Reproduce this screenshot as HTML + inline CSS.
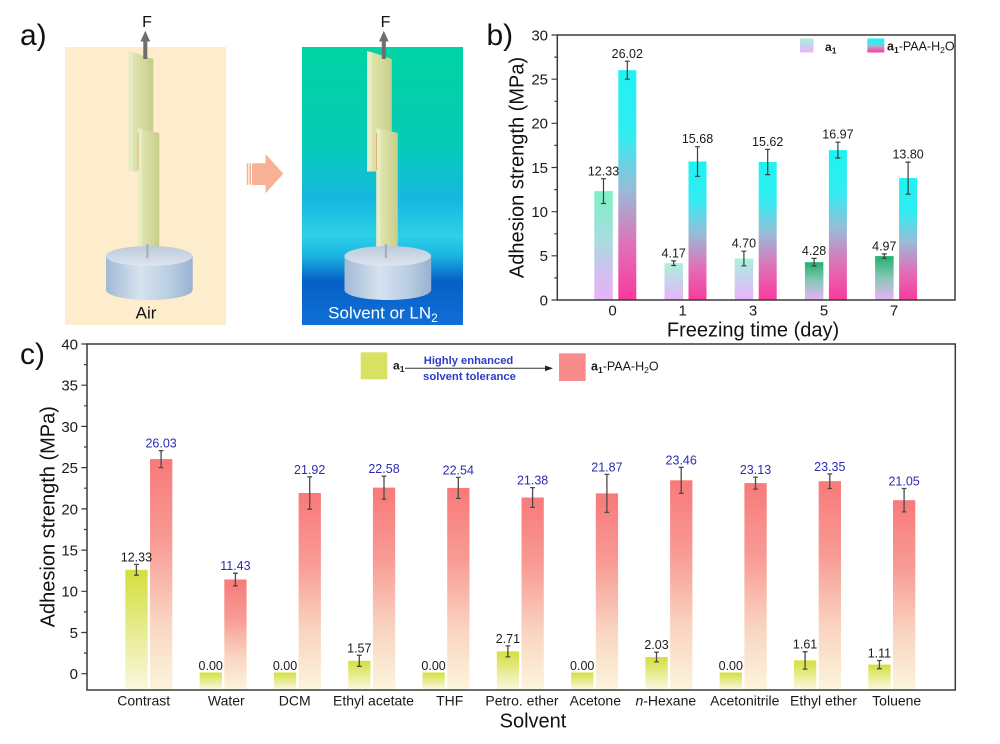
<!DOCTYPE html>
<html>
<head>
<meta charset="utf-8">
<style>
  html,body{margin:0;padding:0;background:#fff;}
  svg{display:block;}
  text{font-family:"Liberation Sans",Arial,sans-serif;}
</style>
</head>
<body>
<svg width="1000" height="744" viewBox="0 0 1000 744" xmlns="http://www.w3.org/2000/svg">
<defs>
  <linearGradient id="bgR" x1="0" y1="0" x2="0" y2="1">
    <stop offset="0" stop-color="#00d3a4"/>
    <stop offset="0.35" stop-color="#06cbb6"/>
    <stop offset="0.55" stop-color="#16b8e0"/>
    <stop offset="0.68" stop-color="#2ed0e8"/>
    <stop offset="0.75" stop-color="#1cb4e2"/>
    <stop offset="0.84" stop-color="#0660c6"/>
    <stop offset="1" stop-color="#106fd6"/>
  </linearGradient>
  <linearGradient id="plate" x1="0" y1="0" x2="1" y2="0">
    <stop offset="0" stop-color="#dfe4ae"/>
    <stop offset="0.5" stop-color="#d4da9c"/>
    <stop offset="1" stop-color="#c6cd8a"/>
  </linearGradient>
  <linearGradient id="cyl" x1="0" y1="0" x2="1" y2="0">
    <stop offset="0" stop-color="#a2bad6"/>
    <stop offset="0.4" stop-color="#d6e2ef"/>
    <stop offset="0.75" stop-color="#b8cce2"/>
    <stop offset="1" stop-color="#98b2d0"/>
  </linearGradient>
  <linearGradient id="cylTop" x1="0" y1="0" x2="0" y2="1">
    <stop offset="0" stop-color="#bccadc"/>
    <stop offset="1" stop-color="#dde5ef"/>
  </linearGradient>
  <!-- panel b -->
  <linearGradient id="gBa0" x1="0" y1="0" x2="0" y2="1">
    <stop offset="0" stop-color="#7ef0c6"/>
    <stop offset="0.45" stop-color="#a8dce0"/>
    <stop offset="0.75" stop-color="#d0c0f0"/>
    <stop offset="1" stop-color="#e8b2f8"/>
  </linearGradient>
  <linearGradient id="gBa1" x1="0" y1="0" x2="0" y2="1">
    <stop offset="0" stop-color="#aaf2d8"/>
    <stop offset="0.5" stop-color="#c8d0f0"/>
    <stop offset="1" stop-color="#eab4f8"/>
  </linearGradient>
  <linearGradient id="gBa5" x1="0" y1="0" x2="0" y2="1">
    <stop offset="0" stop-color="#22b06e"/>
    <stop offset="0.5" stop-color="#88c8b8"/>
    <stop offset="1" stop-color="#e8b2f6"/>
  </linearGradient>
  <linearGradient id="gBp" x1="0" y1="0" x2="0" y2="1">
    <stop offset="0" stop-color="#1ef2f2"/>
    <stop offset="0.28" stop-color="#32ecf2"/>
    <stop offset="0.52" stop-color="#98bcd8"/>
    <stop offset="0.76" stop-color="#e070b8"/>
    <stop offset="1" stop-color="#fa3a9c"/>
  </linearGradient>
  <!-- panel c -->
  <linearGradient id="gCa" x1="0" y1="0" x2="0" y2="1">
    <stop offset="0" stop-color="#d4df3c"/>
    <stop offset="1" stop-color="#faf7de"/>
  </linearGradient>
  <linearGradient id="gCp" x1="0" y1="0" x2="0" y2="1">
    <stop offset="0" stop-color="#f87a7a"/>
    <stop offset="0.35" stop-color="#f89a94"/>
    <stop offset="0.7" stop-color="#f9d4c0"/>
    <stop offset="1" stop-color="#fcf4dc"/>
  </linearGradient>
</defs>

<!-- ================= PANEL A ================= -->
<text x="20" y="45" font-size="30" fill="#111">a)</text>
<rect x="65" y="47" width="161" height="278" fill="#fdedcc"/>
<rect x="302" y="47" width="161" height="278" fill="url(#bgR)"/>

<g id="rig">
  <!-- upper plate -->
  <polygon points="128.5,51 133,52 133,171.5 128.5,171.5" fill="#e6ecc4"/>
  <polygon points="133,52 153.3,59 153.3,171.5 133,171.5" fill="url(#plate)"/>
  <!-- lower plate -->
  <polygon points="137.7,128.3 142,129 142,246.7 137.7,246.7" fill="#e6ecc4"/>
  <line x1="138" y1="133" x2="138" y2="170" stroke="#e0a860" stroke-width="0.8"/>
  <polygon points="142,129 159.3,133 159.3,246.7 142,246.7" fill="url(#plate)"/>
  <!-- rod -->
  <rect x="146.3" y="244" width="2.2" height="20" fill="#a8b0b8"/>
  <!-- cylinder -->
  <rect x="106" y="256" width="86.7" height="34" fill="url(#cyl)"/>
  <ellipse cx="149.3" cy="290" rx="43.3" ry="10" fill="url(#cyl)"/>
  <ellipse cx="149.3" cy="256" rx="43.3" ry="10" fill="url(#cylTop)"/>
  <rect x="146.3" y="246" width="2.2" height="12" fill="#a8b0b8"/>
  <!-- force arrow -->
  <rect x="143.3" y="40" width="4" height="19" fill="#6e6e6e"/>
  <polygon points="140.5,41.5 150.2,41.5 145.3,30.7" fill="#6e6e6e"/>
</g>
<use href="#rig" transform="translate(238.5,0)"/>
<text x="147" y="27" font-size="16" text-anchor="middle" fill="#111">F</text>
<text x="385.5" y="27" font-size="16" text-anchor="middle" fill="#111">F</text>

<!-- block arrow -->
<rect x="246.7" y="163.3" width="1.6" height="21.5" fill="#f7b195"/>
<rect x="249.4" y="163.3" width="1.6" height="21.5" fill="#f7b195"/>
<polygon points="252,163.3 265.5,163.3 265.5,154 283.3,173.8 265.5,193.3 265.5,185 252,185" fill="#f7b195"/>

<text x="146" y="318.3" font-size="17" text-anchor="middle" fill="#111">Air</text>
<text x="383" y="318.3" font-size="17" text-anchor="middle" fill="#fff">Solvent or LN<tspan dy="3.5" font-size="12">2</tspan></text>

<!-- ================= PANEL B ================= -->
<text x="486.5" y="45" font-size="30" fill="#111">b)</text>

<!-- bars -->
<rect x="594.3" y="191.1" width="18.5" height="108.9" fill="url(#gBa0)"/>
<rect x="618.3" y="70.2" width="18" height="229.8" fill="url(#gBp)"/>
<rect x="664.5" y="263.2" width="18.5" height="36.8" fill="url(#gBa1)"/>
<rect x="688.5" y="161.5" width="18" height="138.5" fill="url(#gBp)"/>
<rect x="734.7" y="258.5" width="18.5" height="41.5" fill="url(#gBa1)"/>
<rect x="758.7" y="162" width="18" height="138" fill="url(#gBp)"/>
<rect x="804.9" y="262.2" width="18.5" height="37.8" fill="url(#gBa5)"/>
<rect x="828.9" y="150.1" width="18" height="149.9" fill="url(#gBp)"/>
<rect x="875.1" y="256.1" width="18.5" height="43.9" fill="url(#gBa5)"/>
<rect x="899.1" y="178.1" width="18" height="121.9" fill="url(#gBp)"/>

<!-- error bars -->
<g stroke="#3e3e3e" stroke-width="1.2" fill="none">
  <path d="M603.5,178.7V203.5M601,178.7H606M601,203.5H606"/>
  <path d="M627.3,61.2V79.2M624.8,61.2H629.8M624.8,79.2H629.8"/>
  <path d="M673.7,260.9V265.5M671.2,260.9H676.2M671.2,265.5H676.2"/>
  <path d="M697.5,146.7V176.3M695,146.7H700M695,176.3H700"/>
  <path d="M743.9,251.2V265.8M741.4,251.2H746.4M741.4,265.8H746.4"/>
  <path d="M767.7,149.4V174.6M765.2,149.4H770.2M765.2,174.6H770.2"/>
  <path d="M814.1,258.4V266M811.6,258.4H816.6M811.6,266H816.6"/>
  <path d="M837.9,142.2V158M835.4,142.2H840.4M835.4,158H840.4"/>
  <path d="M884.3,253.9V258.3M881.8,253.9H886.8M881.8,258.3H886.8"/>
  <path d="M908.1,162.1V194.1M905.6,162.1H910.6M905.6,194.1H910.6"/>
</g>

<!-- value labels -->
<g font-size="12.5" fill="#1a1a1a" text-anchor="middle">
  <text x="603.5" y="175.5">12.33</text>
  <text x="627.3" y="58">26.02</text>
  <text x="673.7" y="257.5">4.17</text>
  <text x="697.5" y="143">15.68</text>
  <text x="743.9" y="247.5">4.70</text>
  <text x="767.7" y="146">15.62</text>
  <text x="814.1" y="254.8">4.28</text>
  <text x="837.9" y="138.7">16.97</text>
  <text x="884.3" y="250.5">4.97</text>
  <text x="908.1" y="158.7">13.80</text>
</g>

<!-- axes box -->
<rect x="557.3" y="35" width="397.7" height="265" fill="none" stroke="#3a3a3a" stroke-width="1.5"/>
<g stroke="#3a3a3a" stroke-width="1.2">
  <path d="M551.5,300H557.3M551.5,255.8H557.3M551.5,211.7H557.3M551.5,167.5H557.3M551.5,123.3H557.3M551.5,79.2H557.3M551.5,35H557.3"/>
  <path d="M554.3,277.9H557.3M554.3,233.8H557.3M554.3,189.6H557.3M554.3,145.4H557.3M554.3,101.3H557.3M554.3,57.1H557.3"/>
</g>
<g font-size="15" fill="#1a1a1a" text-anchor="end">
  <text x="548" y="305.4">0</text>
  <text x="548" y="261.2">5</text>
  <text x="548" y="217.1">10</text>
  <text x="548" y="172.9">15</text>
  <text x="548" y="128.7">20</text>
  <text x="548" y="84.6">25</text>
  <text x="548" y="40.4">30</text>
</g>
<g font-size="15" fill="#1a1a1a" text-anchor="middle">
  <text x="612.5" y="315.5">0</text>
  <text x="682.7" y="315.5">1</text>
  <text x="753" y="315.5">3</text>
  <text x="824" y="315.5">5</text>
  <text x="894" y="315.5">7</text>
</g>
<text x="753" y="336.5" font-size="20" fill="#111" text-anchor="middle">Freezing time (day)</text>
<text transform="translate(523.6,167.5) rotate(-90)" font-size="20" fill="#111" text-anchor="middle">Adhesion strength (MPa)</text>

<!-- legend b -->
<rect x="800" y="38.5" width="13.5" height="14" fill="url(#gBa1)"/>
<text x="825" y="51" font-size="12" font-weight="bold" fill="#1a1a1a">a<tspan dy="2.5" font-size="8.5">1</tspan></text>
<rect x="867.3" y="38.5" width="17" height="14" fill="url(#gBp)"/>
<text x="887" y="50.5" font-size="12.5" fill="#1a1a1a"><tspan font-weight="bold">a</tspan><tspan dy="2.5" font-size="8.5" font-weight="bold">1</tspan><tspan dy="-2.5">-PAA-H</tspan><tspan dy="2.5" font-size="8.5">2</tspan><tspan dy="-2.5">O</tspan></text>

<!-- ================= PANEL C ================= -->
<text x="20" y="364" font-size="30" fill="#111">c)</text>

<!-- bars a1 -->
<g fill="url(#gCa)">
  <rect x="125.3" y="569.8" width="22.3" height="119.2"/>
  <rect x="199.6" y="672.5" width="22.3" height="16.5"/>
  <rect x="273.9" y="672.5" width="22.3" height="16.5"/>
  <rect x="348.2" y="660.8" width="22.3" height="28.2"/>
  <rect x="422.5" y="672.5" width="22.3" height="16.5"/>
  <rect x="496.8" y="651.4" width="22.3" height="37.6"/>
  <rect x="571.1" y="672.5" width="22.3" height="16.5"/>
  <rect x="645.4" y="657" width="22.3" height="32"/>
  <rect x="719.7" y="672.5" width="22.3" height="16.5"/>
  <rect x="794" y="660.4" width="22.3" height="28.6"/>
  <rect x="868.3" y="664.6" width="22.3" height="24.4"/>
</g>
<!-- bars PAA -->
<g fill="url(#gCp)">
  <rect x="150" y="459.1" width="22.3" height="229.9"/>
  <rect x="224.3" y="579.5" width="22.3" height="109.5"/>
  <rect x="298.6" y="493" width="22.3" height="196"/>
  <rect x="372.9" y="487.6" width="22.3" height="201.4"/>
  <rect x="447.2" y="487.9" width="22.3" height="201.1"/>
  <rect x="521.5" y="497.5" width="22.3" height="191.5"/>
  <rect x="595.8" y="493.4" width="22.3" height="195.6"/>
  <rect x="670.1" y="480.3" width="22.3" height="208.7"/>
  <rect x="744.4" y="483.1" width="22.3" height="205.9"/>
  <rect x="818.7" y="481.2" width="22.3" height="207.8"/>
  <rect x="893" y="500.2" width="22.3" height="188.8"/>
</g>

<!-- error bars c -->
<g stroke="#4a4a4a" stroke-width="1.3" fill="none">
  <path d="M136.4,564.4V575.2M134,564.4H138.8M134,575.2H138.8"/>
  <path d="M359.3,655.3V666.3M356.9,655.3H361.7M356.9,666.3H361.7"/>
  <path d="M507.9,645.9V656.9M505.5,645.9H510.3M505.5,656.9H510.3"/>
  <path d="M656.5,652.1V661.9M654.1,652.1H658.9M654.1,661.9H658.9"/>
  <path d="M805.1,651.7V669.1M802.7,651.7H807.5M802.7,669.1H807.5"/>
  <path d="M879.4,660.5V668.7M877,660.5H881.8M877,668.7H881.8"/>

  <path d="M161.1,450.6V467.6M158.7,450.6H163.5M158.7,467.6H163.5"/>
  <path d="M235.4,573.2V585.8M233,573.2H237.8M233,585.8H237.8"/>
  <path d="M309.7,476.8V509.2M307.3,476.8H312.1M307.3,509.2H312.1"/>
  <path d="M384,476.1V499.1M381.6,476.1H386.4M381.6,499.1H386.4"/>
  <path d="M458.3,477.4V498.4M455.9,477.4H460.7M455.9,498.4H460.7"/>
  <path d="M532.6,487.6V507.4M530.2,487.6H535M530.2,507.4H535"/>
  <path d="M606.9,474.4V512.4M604.5,474.4H609.3M604.5,512.4H609.3"/>
  <path d="M681.2,467.3V493.3M678.8,467.3H683.6M678.8,493.3H683.6"/>
  <path d="M755.5,477.1V489.1M753.1,477.1H757.9M753.1,489.1H757.9"/>
  <path d="M829.8,473.9V488.5M827.4,473.9H832.2M827.4,488.5H832.2"/>
  <path d="M904.1,488.5V511.9M901.7,488.5H906.5M901.7,511.9H906.5"/>
</g>

<!-- value labels c -->
<g font-size="12.5" fill="#1a1a1a" text-anchor="middle">
  <text x="136.4" y="561.4">12.33</text>
  <text x="210.7" y="670">0.00</text>
  <text x="285" y="670">0.00</text>
  <text x="359.3" y="652.3">1.57</text>
  <text x="433.6" y="670">0.00</text>
  <text x="507.9" y="642.9">2.71</text>
  <text x="582.2" y="670">0.00</text>
  <text x="656.5" y="649.1">2.03</text>
  <text x="730.8" y="670">0.00</text>
  <text x="805.1" y="648.7">1.61</text>
  <text x="879.4" y="657.5">1.11</text>
</g>
<g font-size="12.5" fill="#2b2bb5" text-anchor="middle">
  <text x="161.1" y="447.6">26.03</text>
  <text x="235.4" y="570.2">11.43</text>
  <text x="309.7" y="473.8">21.92</text>
  <text x="384" y="473.1">22.58</text>
  <text x="458.3" y="474.4">22.54</text>
  <text x="532.6" y="484.6">21.38</text>
  <text x="606.9" y="471.4">21.87</text>
  <text x="681.2" y="464.3">23.46</text>
  <text x="755.5" y="474.1">23.13</text>
  <text x="829.8" y="470.9">23.35</text>
  <text x="904.1" y="485.5">21.05</text>
</g>

<!-- axes c -->
<rect x="87" y="344" width="868.3" height="346" fill="none" stroke="#3a3a3a" stroke-width="1.5"/>
<g stroke="#3a3a3a" stroke-width="1.2">
  <path d="M81.3,673.7H87M81.3,632.5H87M81.3,591.3H87M81.3,550.1H87M81.3,508.9H87M81.3,467.6H87M81.3,426.4H87M81.3,385.2H87M81.3,344H87"/>
  <path d="M84,653.1H87M84,611.9H87M84,570.7H87M84,529.5H87M84,488.2H87M84,447H87M84,405.8H87M84,364.6H87"/>
</g>
<g font-size="15" fill="#1a1a1a" text-anchor="end">
  <text x="78" y="679.1">0</text>
  <text x="78" y="637.9">5</text>
  <text x="78" y="596.7">10</text>
  <text x="78" y="555.5">15</text>
  <text x="78" y="514.3">20</text>
  <text x="78" y="473">25</text>
  <text x="78" y="431.8">30</text>
  <text x="78" y="390.6">35</text>
  <text x="78" y="349.4">40</text>
</g>
<g font-size="14" fill="#1a1a1a" text-anchor="middle">
  <text x="143.7" y="705.5">Contrast</text>
  <text x="226.3" y="705.5">Water</text>
  <text x="294.7" y="705.5">DCM</text>
  <text x="373.5" y="705.5">Ethyl acetate</text>
  <text x="449.7" y="705.5">THF</text>
  <text x="522" y="705.5">Petro. ether</text>
  <text x="595.3" y="705.5">Acetone</text>
  <text x="665.8" y="705.5"><tspan font-style="italic">n</tspan>-Hexane</text>
  <text x="744.8" y="705.5">Acetonitrile</text>
  <text x="823.5" y="705.5">Ethyl ether</text>
  <text x="896.7" y="705.5">Toluene</text>
</g>
<text x="533" y="727.5" font-size="20" fill="#111" text-anchor="middle">Solvent</text>
<text transform="translate(54.3,516.7) rotate(-90)" font-size="20" fill="#111" text-anchor="middle">Adhesion strength (MPa)</text>

<!-- legend c -->
<rect x="360.7" y="352.3" width="26.6" height="27" fill="#d9e163"/>
<text x="393" y="369.5" font-size="12" font-weight="bold" fill="#1a1a1a">a<tspan dy="2.5" font-size="8.5">1</tspan></text>
<line x1="405" y1="368.3" x2="546" y2="368.3" stroke="#333" stroke-width="1"/>
<polygon points="545,365.5 553,368.3 545,371.1" fill="#222"/>
<text x="468.5" y="364.2" font-size="11.2" font-weight="bold" fill="#2a3cc8" text-anchor="middle">Highly enhanced</text>
<text x="469.5" y="379.8" font-size="11.3" font-weight="bold" fill="#2a3cc8" text-anchor="middle">solvent tolerance</text>
<rect x="559" y="353.3" width="26.7" height="27.7" fill="#f98c8a"/>
<text x="591" y="370.5" font-size="12.5" fill="#1a1a1a"><tspan font-weight="bold">a</tspan><tspan dy="2.5" font-size="8.5" font-weight="bold">1</tspan><tspan dy="-2.5">-PAA-H</tspan><tspan dy="2.5" font-size="8.5">2</tspan><tspan dy="-2.5">O</tspan></text>

</svg>
</body>
</html>
